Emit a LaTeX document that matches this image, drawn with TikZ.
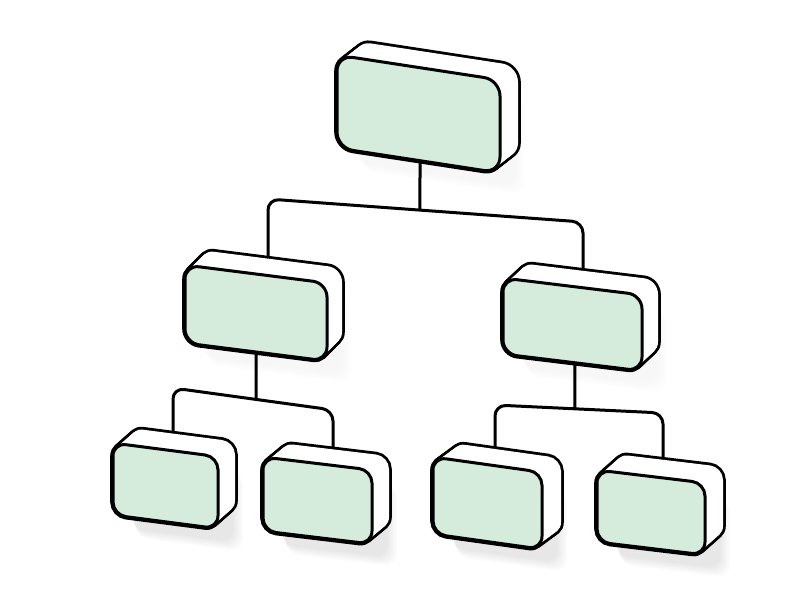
\documentclass[tikz,border=0pt]{standalone}
\usetikzlibrary{calc}
\definecolor{facegreen}{RGB}{213,235,220}
\tikzset{
  conn/.style={line width=3pt, rounded corners=11pt, line join=round},
}
% \slab{x}{y}{w}{h}{slant}{dx}{dy}{radius}{shadow opacity}
\newcommand{\slab}[9]{%
  \begin{scope}[shift={(#1,#2)}]
    \foreach \k in {1,...,8}{
      \begin{scope}[shift={(14,12)}, yslant=#5]
        \fill[black, opacity=#9, rounded corners=#8pt]
          ({4+\k*0.6},{\k*0.3}) rectangle ({#3+\k*1.4},{#4+\k*1.2});
      \end{scope}}
    \foreach \i in {0,...,14}{
      \begin{scope}[shift={({#6*\i/14},{#7*\i/14})}, yslant=#5]
        \draw[line width=5.6pt, rounded corners=#8pt] (0,0) rectangle (#3,#4);
      \end{scope}}
    \foreach \i in {0,...,14}{
      \begin{scope}[shift={({#6*\i/14},{#7*\i/14})}, yslant=#5]
        \fill[white, rounded corners=#8pt] (0,0) rectangle (#3,#4);
      \end{scope}}
    \begin{scope}[yslant=#5]
      \draw[line width=3pt, fill=facegreen, rounded corners=#8pt] (0,0) rectangle (#3,#4);
    \end{scope}
  \end{scope}}
\begin{document}
\begin{tikzpicture}[x=1pt, y=1pt, yscale=-1]
\useasboundingbox (0,0) rectangle (800,600);
\fill[white] (0,0) rectangle (800,600);

% connection points
\coordinate (rootbot) at (420,150);
\coordinate (busAL) at (268,199);
\coordinate (busAR) at (583,222);
\coordinate (busAM) at ($(busAL)!0.4825!(busAR)$);
\coordinate (lefttop) at (268,272);
\coordinate (righttop) at (583,288);

\coordinate (leftbot) at (256,340);
\coordinate (busBL) at (173,388);
\coordinate (busBR) at (333,410);
\coordinate (busBM) at ($(busBL)!0.519!(busBR)$);
\coordinate (llefttop) at (173,452);
\coordinate (lrighttop) at (333,466);

\coordinate (rightbot) at (575,350);
\coordinate (busCL) at (495,405);
\coordinate (busCR) at (663,413);
\coordinate (busCM) at ($(busCL)!0.476!(busCR)$);
\coordinate (rlefttop) at (495,466);
\coordinate (rrighttop) at (663,480);

% connectors
\draw[conn] (lefttop) -- (busAL) -- (busAR) -- (righttop);
\draw[conn] (rootbot) -- (busAM);
\draw[conn] (llefttop) -- (busBL) -- (busBR) -- (lrighttop);
\draw[conn] (leftbot) -- (busBM);
\draw[conn] (rlefttop) -- (busCL) -- (busCR) -- (rrighttop);
\draw[conn] (rightbot) -- (busCM);

% boxes
\slab{337}{55}{163}{93}{0.153}{18}{-14}{16}{0.004}
\slab{185}{265}{142}{78}{0.127}{15}{-15}{14}{0.005}
\slab{503}{278}{139}{76}{0.122}{16}{-15}{14}{0.005}
\slab{113}{443}{105}{72}{0.13}{17}{-15}{13}{0.012}
\slab{263}{457}{109}{74}{0.12}{17}{-14}{13}{0.012}
\slab{433}{457}{109}{77}{0.14}{19}{-14}{13}{0.012}
\slab{597}{470}{108}{72}{0.12}{18}{-16}{13}{0.012}
\end{tikzpicture}
\end{document}
